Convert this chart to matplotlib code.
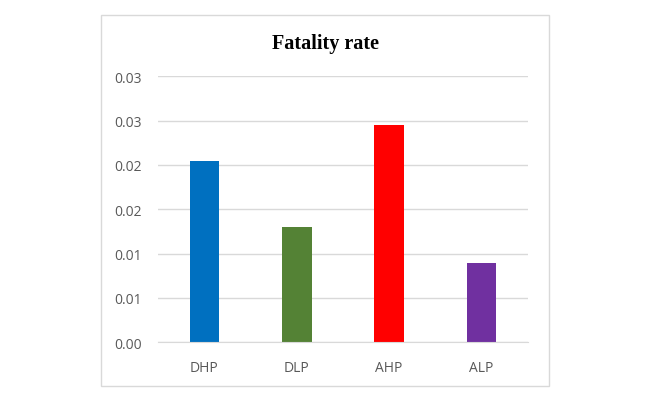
import matplotlib
matplotlib.use('Agg')
import matplotlib.pyplot as plt
from matplotlib.patches import Rectangle

categories = ['DHP', 'DLP', 'AHP', 'ALP']
values = [0.0205, 0.0130, 0.0245, 0.0089]
colors = ['#0070C0', '#548235', '#FF0000', '#7030A0']
yticks = [0.0, 0.005, 0.01, 0.015, 0.02, 0.025, 0.03]
ytick_labels = ['0.00', '0.01', '0.01', '0.02', '0.02', '0.03', '0.03']

plt.rcParams['font.family'] = ['Open Sans', 'DejaVu Sans']

fig = plt.figure(figsize=(6.57, 4.06), dpi=100)
ax = fig.add_axes([158.3/657, 1-343.3/406, (527.7-158.3)/657, (343.3-77.3)/406])

# outer chart frame like Excel
fig.patches.append(Rectangle((101/657, 1-387/406), (549-101)/657, (387-16)/406,
                             transform=fig.transFigure, fill=False,
                             edgecolor='#d9d9d9', linewidth=1))

x = range(len(categories))
ax.bar(x, values, width=0.32, color=colors, zorder=3)

ax.set_xlim(-0.5, 3.5)
ax.set_ylim(0, 0.03)
ax.set_yticks(yticks)
ax.set_yticklabels(ytick_labels)
ax.set_xticks(list(x))
ax.set_xticklabels(categories)

ax.grid(axis='y', color='#d9d9d9', linewidth=1, zorder=0)
for s in ['top', 'right', 'left']:
    ax.spines[s].set_visible(False)
ax.spines['bottom'].set_color('#d9d9d9')
ax.spines['bottom'].set_zorder(4)
ax.tick_params(axis='both', length=0, colors='#595959', labelsize=10)
ax.tick_params(axis='y', pad=12)
ax.tick_params(axis='x', pad=13)

fig.text(325/657, 1-44/406, 'Fatality rate', ha='center', va='center',
         fontsize=14.5, fontweight='bold', family='Liberation Serif')

fig.savefig('out.png', dpi=100)
